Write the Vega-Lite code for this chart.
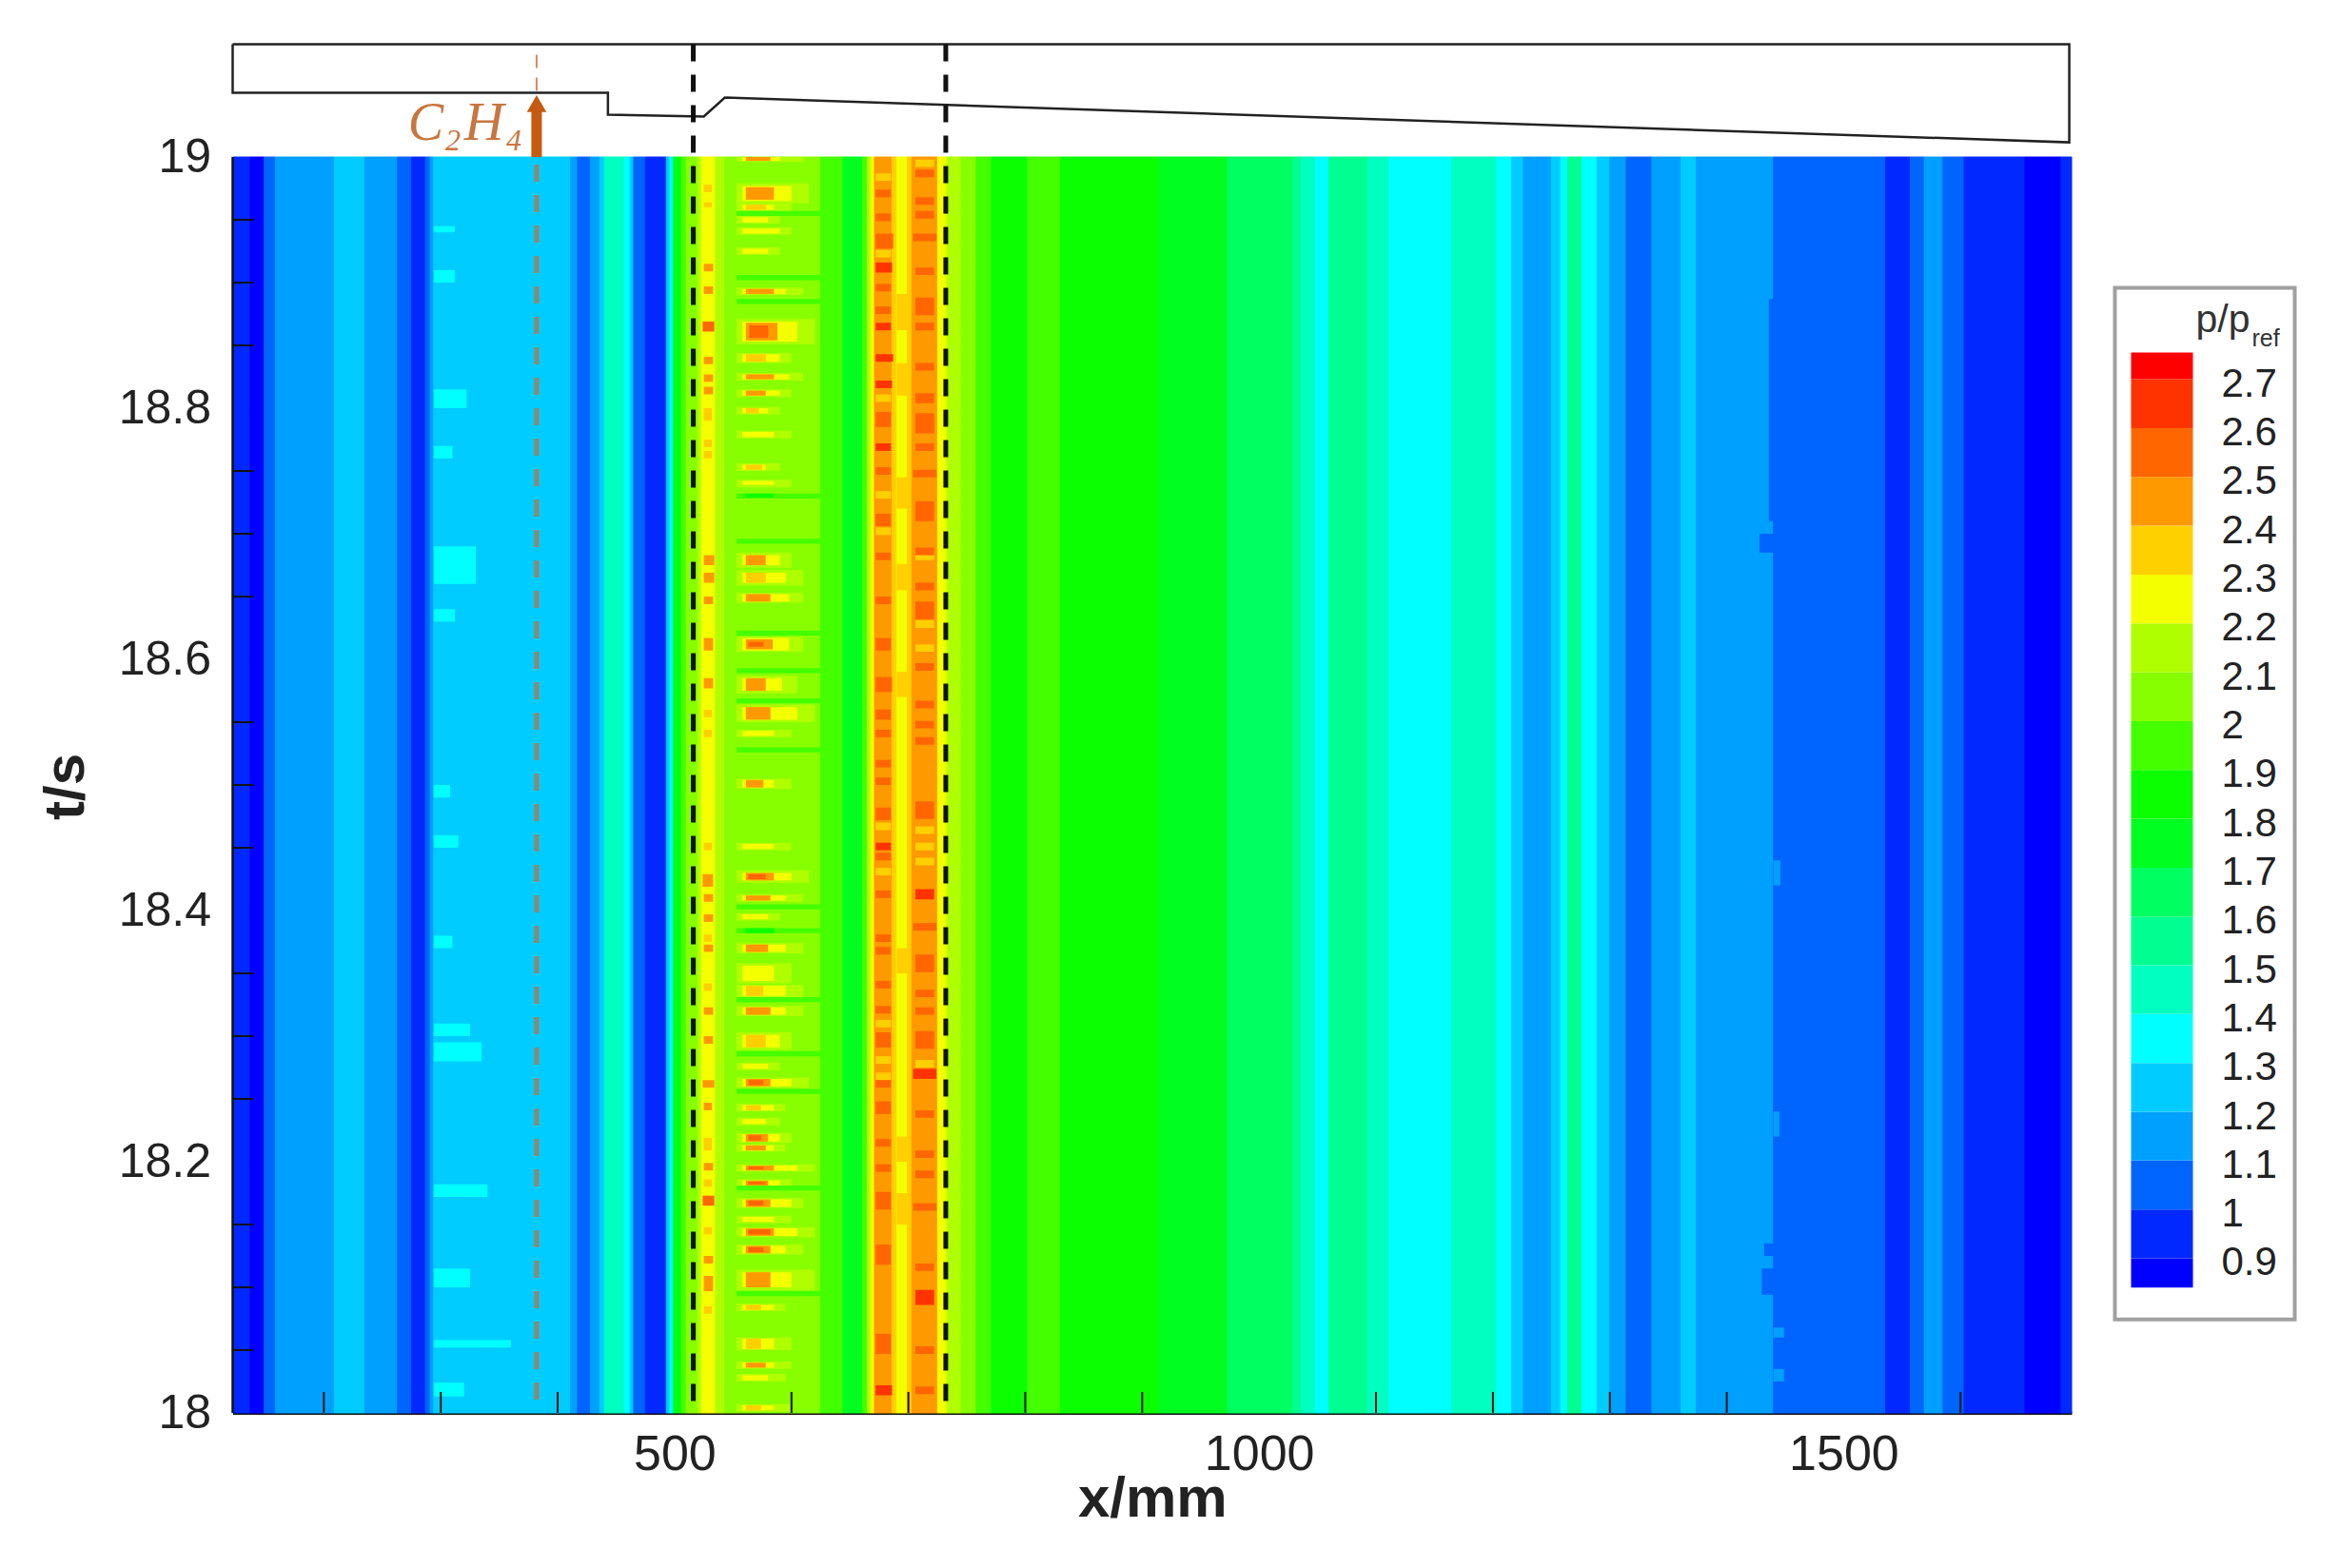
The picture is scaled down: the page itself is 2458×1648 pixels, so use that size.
{"$schema":"https://vega.github.io/schema/vega-lite/v6.json","background":"white","padding":{"left":39.5,"top":41.5,"right":0,"bottom":0},"spacing":40,"config":{"view":{"stroke":null},"font":"Liberation Sans","axis":{"labelFont":"Liberation Sans","titleFont":"Liberation Sans"}},
"datasets":{
"strips":[{"x":122,"x2":137,"t":18,"t2":19,"p":0.95},{"x":137,"x2":149,"t":18,"t2":19,"p":0.85},{"x":149,"x2":158.5,"t":18,"t2":19,"p":1.05},{"x":158.5,"x2":209,"t":18,"t2":19,"p":1.15},{"x":209,"x2":235,"t":18,"t2":19,"p":1.25},{"x":235,"x2":263,"t":18,"t2":19,"p":1.15},{"x":263,"x2":275,"t":18,"t2":19,"p":1.05},{"x":275,"x2":287,"t":18,"t2":19,"p":0.95},{"x":287,"x2":291,"t":18,"t2":19,"p":1.05},{"x":291,"x2":294,"t":18,"t2":19,"p":1.15},{"x":294,"x2":411,"t":18,"t2":19,"p":1.25},{"x":411,"x2":417,"t":18,"t2":19,"p":1.15},{"x":417,"x2":428,"t":18,"t2":19,"p":1.05},{"x":428,"x2":436,"t":18,"t2":19,"p":1.15},{"x":436,"x2":440,"t":18,"t2":19,"p":1.25},{"x":440,"x2":457,"t":18,"t2":19,"p":1.45},{"x":457,"x2":462,"t":18,"t2":19,"p":1.35},{"x":462,"x2":465,"t":18,"t2":19,"p":1.25},{"x":465,"x2":475,"t":18,"t2":19,"p":1.05},{"x":475,"x2":493,"t":18,"t2":19,"p":0.95},{"x":493,"x2":496,"t":18,"t2":19,"p":1.25},{"x":496,"x2":499,"t":18,"t2":19,"p":1.35},{"x":499,"x2":503,"t":18,"t2":19,"p":1.75},{"x":503,"x2":506,"t":18,"t2":19,"p":1.85},{"x":506,"x2":510,"t":18,"t2":19,"p":1.95},{"x":510,"x2":520,"t":18,"t2":19,"p":2.05},{"x":520,"x2":523,"t":18,"t2":19,"p":2.15},{"x":523,"x2":535,"t":18,"t2":19,"p":2.25},{"x":535,"x2":543,"t":18,"t2":19,"p":2.15},{"x":543,"x2":625,"t":18,"t2":19,"p":2.05},{"x":625,"x2":644,"t":18,"t2":19,"p":1.95},{"x":644,"x2":661,"t":18,"t2":19,"p":1.75},{"x":661,"x2":665,"t":18,"t2":19,"p":1.95},{"x":665,"x2":668,"t":18,"t2":19,"p":2.15},{"x":668,"x2":671,"t":18,"t2":19,"p":2.25},{"x":671,"x2":686,"t":18,"t2":19,"p":2.45},{"x":686,"x2":690,"t":18,"t2":19,"p":2.35},{"x":690,"x2":699,"t":18,"t2":19,"p":2.25},{"x":699,"x2":703,"t":18,"t2":19,"p":2.35},{"x":703,"x2":725,"t":18,"t2":19,"p":2.45},{"x":725,"x2":733,"t":18,"t2":19,"p":2.25},{"x":733,"x2":745,"t":18,"t2":19,"p":2.15},{"x":745,"x2":758,"t":18,"t2":19,"p":2.05},{"x":758,"x2":771,"t":18,"t2":19,"p":1.95},{"x":771,"x2":802,"t":18,"t2":19,"p":1.85},{"x":802,"x2":830,"t":18,"t2":19,"p":1.95},{"x":830,"x2":914,"t":18,"t2":19,"p":1.85},{"x":914,"x2":973,"t":18,"t2":19,"p":1.75},{"x":973,"x2":1029,"t":18,"t2":19,"p":1.65},{"x":1029,"x2":1036,"t":18,"t2":19,"p":1.55},{"x":1036,"x2":1048,"t":18,"t2":19,"p":1.45},{"x":1048,"x2":1060,"t":18,"t2":19,"p":1.35},{"x":1060,"x2":1093,"t":18,"t2":19,"p":1.55},{"x":1093,"x2":1111,"t":18,"t2":19,"p":1.45},{"x":1111,"x2":1165,"t":18,"t2":19,"p":1.35},{"x":1165,"x2":1203,"t":18,"t2":19,"p":1.45},{"x":1203,"x2":1216,"t":18,"t2":19,"p":1.35},{"x":1216,"x2":1226,"t":18,"t2":19,"p":1.25},{"x":1226,"x2":1250,"t":18,"t2":19,"p":1.15},{"x":1250,"x2":1258,"t":18,"t2":19,"p":1.25},{"x":1258,"x2":1264,"t":18,"t2":19,"p":1.35},{"x":1264,"x2":1276,"t":18,"t2":19,"p":1.55},{"x":1276,"x2":1289,"t":18,"t2":19,"p":1.35},{"x":1289,"x2":1300,"t":18,"t2":19,"p":1.25},{"x":1300,"x2":1314,"t":18,"t2":19,"p":1.15},{"x":1314,"x2":1336,"t":18,"t2":19,"p":1.05},{"x":1336,"x2":1361,"t":18,"t2":19,"p":1.15},{"x":1361,"x2":1374,"t":18,"t2":19,"p":1.25},{"x":1374,"x2":1440,"t":18,"t2":19,"p":1.15},{"x":1440,"x2":1536,"t":18,"t2":19,"p":1.05},{"x":1536,"x2":1557,"t":18,"t2":19,"p":0.95},{"x":1557,"x2":1569,"t":18,"t2":19,"p":1.05},{"x":1569,"x2":1585,"t":18,"t2":19,"p":1.15},{"x":1585,"x2":1603,"t":18,"t2":19,"p":1.05},{"x":1603,"x2":1655,"t":18,"t2":19,"p":0.95},{"x":1655,"x2":1686,"t":18,"t2":19,"p":0.85},{"x":1686,"x2":1695,"t":18,"t2":19,"p":0.95}],
"streaks":[
{"x":294,"x2":312,"t":18.94,"t2":18.945,"p":1.35},{"x":294,"x2":312,"t":18.9,"t2":18.91,"p":1.35},{"x":294,"x2":322,"t":18.8,"t2":18.815,"p":1.35},{"x":294,"x2":310,"t":18.76,"t2":18.77,"p":1.35},{"x":294,"x2":330,"t":18.66,"t2":18.69,"p":1.35},{"x":294,"x2":312,"t":18.63,"t2":18.64,"p":1.35},{"x":294,"x2":308,"t":18.49,"t2":18.5,"p":1.35},{"x":294,"x2":315,"t":18.45,"t2":18.46,"p":1.35},{"x":294,"x2":310,"t":18.37,"t2":18.38,"p":1.35},{"x":294,"x2":325,"t":18.3,"t2":18.31,"p":1.35},{"x":294,"x2":335,"t":18.28,"t2":18.295,"p":1.35},{"x":294,"x2":340,"t":18.172,"t2":18.182,"p":1.35},{"x":294,"x2":325,"t":18.1,"t2":18.115,"p":1.35},{"x":294,"x2":360,"t":18.052,"t2":18.058,"p":1.35},{"x":294,"x2":320,"t":18.013,"t2":18.024,"p":1.35},
{"x":1428,"x2":1440,"t":18.685,"t2":18.7,"p":1.05},{"x":1436,"x2":1440,"t":18.71,"t2":18.887,"p":1.05},{"x":1432,"x2":1440,"t":18.125,"t2":18.135,"p":1.05},{"x":1430,"x2":1440,"t":18.094,"t2":18.115,"p":1.05},{"x":1440,"x2":1449,"t":18.06,"t2":18.068,"p":1.15},{"x":1440,"x2":1449,"t":18.025,"t2":18.035,"p":1.15},{"x":1440,"x2":1445,"t":18.22,"t2":18.24,"p":1.15},{"x":1440,"x2":1446,"t":18.42,"t2":18.44,"p":1.15},
{"x":553,"x2":610,"t":18.996,"t2":19,"p":2.15},{"x":553,"x2":615,"t":18.963,"t2":18.979,"p":2.15},{"x":553,"x2":600,"t":18.957,"t2":18.963,"p":2.15},{"x":553,"x2":590,"t":18.947,"t2":18.953,"p":2.15},{"x":553,"x2":600,"t":18.938,"t2":18.944,"p":2.15},{"x":553,"x2":590,"t":18.922,"t2":18.928,"p":2.15},{"x":553,"x2":610,"t":18.89,"t2":18.896,"p":2.15},{"x":553,"x2":620,"t":18.851,"t2":18.871,"p":2.15},{"x":553,"x2":600,"t":18.836,"t2":18.844,"p":2.15},{"x":553,"x2":610,"t":18.822,"t2":18.828,"p":2.15},{"x":553,"x2":600,"t":18.809,"t2":18.815,"p":2.15},{"x":553,"x2":590,"t":18.795,"t2":18.801,"p":2.15},{"x":553,"x2":600,"t":18.776,"t2":18.782,"p":2.15},{"x":553,"x2":590,"t":18.75,"t2":18.756,"p":2.15},{"x":553,"x2":600,"t":18.737,"t2":18.743,"p":2.15},{"x":553,"x2":600,"t":18.673,"t2":18.685,"p":2.15},{"x":553,"x2":610,"t":18.659,"t2":18.671,"p":2.15},{"x":553,"x2":610,"t":18.645,"t2":18.653,"p":2.15},{"x":553,"x2":610,"t":18.606,"t2":18.618,"p":2.15},{"x":553,"x2":605,"t":18.573,"t2":18.587,"p":2.15},{"x":553,"x2":620,"t":18.55,"t2":18.564,"p":2.15},{"x":553,"x2":600,"t":18.538,"t2":18.544,"p":2.15},{"x":553,"x2":600,"t":18.497,"t2":18.505,"p":2.15},{"x":553,"x2":600,"t":18.448,"t2":18.454,"p":2.15},{"x":553,"x2":615,"t":18.422,"t2":18.432,"p":2.15},{"x":553,"x2":610,"t":18.407,"t2":18.413,"p":2.15},{"x":553,"x2":590,"t":18.392,"t2":18.398,"p":2.15},{"x":553,"x2":610,"t":18.366,"t2":18.374,"p":2.15},{"x":553,"x2":600,"t":18.342,"t2":18.358,"p":2.15},{"x":553,"x2":610,"t":18.331,"t2":18.341,"p":2.15},{"x":553,"x2":610,"t":18.316,"t2":18.324,"p":2.15},{"x":553,"x2":600,"t":18.289,"t2":18.303,"p":2.15},{"x":553,"x2":590,"t":18.273,"t2":18.279,"p":2.15},{"x":553,"x2":615,"t":18.259,"t2":18.267,"p":2.15},{"x":553,"x2":595,"t":18.24,"t2":18.246,"p":2.15},{"x":553,"x2":590,"t":18.229,"t2":18.235,"p":2.15},{"x":553,"x2":600,"t":18.215,"t2":18.223,"p":2.15},{"x":553,"x2":595,"t":18.208,"t2":18.214,"p":2.15},{"x":553,"x2":620,"t":18.192,"t2":18.198,"p":2.15},{"x":553,"x2":600,"t":18.18,"t2":18.186,"p":2.15},{"x":553,"x2":610,"t":18.163,"t2":18.171,"p":2.15},{"x":553,"x2":600,"t":18.151,"t2":18.157,"p":2.15},{"x":553,"x2":620,"t":18.14,"t2":18.148,"p":2.15},{"x":553,"x2":610,"t":18.126,"t2":18.134,"p":2.15},{"x":553,"x2":620,"t":18.098,"t2":18.114,"p":2.15},{"x":553,"x2":595,"t":18.081,"t2":18.087,"p":2.15},{"x":553,"x2":600,"t":18.05,"t2":18.06,"p":2.15},{"x":553,"x2":600,"t":18.035,"t2":18.041,"p":2.15},{"x":553,"x2":595,"t":18.025,"t2":18.031,"p":2.15},{"x":553,"x2":600,"t":18.001,"t2":18.007,"p":2.15},
{"x":553,"x2":628,"t":18.953,"t2":18.957,"p":1.95},{"x":553,"x2":628,"t":18.902,"t2":18.906,"p":1.95},{"x":553,"x2":628,"t":18.883,"t2":18.887,"p":1.95},{"x":553,"x2":628,"t":18.728,"t2":18.732,"p":1.95},{"x":560,"x2":585,"t":18.729,"t2":18.732,"p":1.85},{"x":553,"x2":628,"t":18.692,"t2":18.696,"p":1.95},{"x":553,"x2":628,"t":18.619,"t2":18.623,"p":1.95},{"x":553,"x2":628,"t":18.589,"t2":18.593,"p":1.95},{"x":553,"x2":628,"t":18.565,"t2":18.569,"p":1.95},{"x":553,"x2":628,"t":18.526,"t2":18.53,"p":1.95},{"x":553,"x2":628,"t":18.401,"t2":18.405,"p":1.95},{"x":553,"x2":628,"t":18.382,"t2":18.386,"p":1.95},{"x":560,"x2":585,"t":18.382,"t2":18.386,"p":1.85},{"x":553,"x2":628,"t":18.327,"t2":18.331,"p":1.95},{"x":553,"x2":628,"t":18.284,"t2":18.288,"p":1.95},{"x":553,"x2":628,"t":18.254,"t2":18.258,"p":1.95},{"x":553,"x2":628,"t":18.177,"t2":18.181,"p":1.95},{"x":553,"x2":628,"t":18.093,"t2":18.097,"p":1.95},
{"x":558,"x2":590,"t":18.997,"t2":19,"p":2.25},{"x":558,"x2":600,"t":18.965,"t2":18.977,"p":2.25},{"x":558,"x2":585,"t":18.958,"t2":18.962,"p":2.25},{"x":558,"x2":580,"t":18.948,"t2":18.952,"p":2.25},{"x":558,"x2":590,"t":18.939,"t2":18.943,"p":2.25},{"x":558,"x2":580,"t":18.923,"t2":18.927,"p":2.25},{"x":558,"x2":595,"t":18.891,"t2":18.895,"p":2.25},{"x":558,"x2":605,"t":18.853,"t2":18.869,"p":2.25},{"x":558,"x2":590,"t":18.837,"t2":18.843,"p":2.25},{"x":558,"x2":598,"t":18.823,"t2":18.827,"p":2.25},{"x":558,"x2":590,"t":18.81,"t2":18.814,"p":2.25},{"x":558,"x2":580,"t":18.796,"t2":18.8,"p":2.25},{"x":558,"x2":585,"t":18.777,"t2":18.781,"p":2.25},{"x":558,"x2":578,"t":18.751,"t2":18.755,"p":2.25},{"x":558,"x2":585,"t":18.739,"t2":18.742,"p":2.25},{"x":558,"x2":590,"t":18.675,"t2":18.683,"p":2.25},{"x":558,"x2":595,"t":18.661,"t2":18.669,"p":2.25},{"x":558,"x2":598,"t":18.646,"t2":18.652,"p":2.25},{"x":558,"x2":598,"t":18.607,"t2":18.617,"p":2.25},{"x":558,"x2":592,"t":18.575,"t2":18.585,"p":2.25},{"x":558,"x2":605,"t":18.552,"t2":18.562,"p":2.25},{"x":558,"x2":585,"t":18.539,"t2":18.543,"p":2.25},{"x":558,"x2":585,"t":18.498,"t2":18.504,"p":2.25},{"x":558,"x2":585,"t":18.449,"t2":18.453,"p":2.25},{"x":558,"x2":600,"t":18.424,"t2":18.43,"p":2.25},{"x":558,"x2":595,"t":18.408,"t2":18.412,"p":2.25},{"x":558,"x2":580,"t":18.393,"t2":18.397,"p":2.25},{"x":558,"x2":595,"t":18.367,"t2":18.373,"p":2.25},{"x":558,"x2":585,"t":18.344,"t2":18.356,"p":2.25},{"x":558,"x2":595,"t":18.332,"t2":18.34,"p":2.25},{"x":558,"x2":595,"t":18.317,"t2":18.323,"p":2.25},{"x":558,"x2":590,"t":18.291,"t2":18.301,"p":2.25},{"x":558,"x2":580,"t":18.274,"t2":18.278,"p":2.25},{"x":558,"x2":600,"t":18.26,"t2":18.266,"p":2.25},{"x":558,"x2":585,"t":18.241,"t2":18.245,"p":2.25},{"x":558,"x2":578,"t":18.23,"t2":18.234,"p":2.25},{"x":558,"x2":590,"t":18.216,"t2":18.222,"p":2.25},{"x":558,"x2":585,"t":18.209,"t2":18.213,"p":2.25},{"x":558,"x2":605,"t":18.193,"t2":18.197,"p":2.25},{"x":558,"x2":590,"t":18.181,"t2":18.185,"p":2.25},{"x":558,"x2":600,"t":18.164,"t2":18.17,"p":2.25},{"x":558,"x2":585,"t":18.152,"t2":18.156,"p":2.25},{"x":558,"x2":605,"t":18.141,"t2":18.147,"p":2.25},{"x":558,"x2":595,"t":18.127,"t2":18.133,"p":2.25},{"x":558,"x2":600,"t":18.1,"t2":18.112,"p":2.25},{"x":558,"x2":585,"t":18.082,"t2":18.086,"p":2.25},{"x":558,"x2":585,"t":18.051,"t2":18.059,"p":2.25},{"x":558,"x2":585,"t":18.036,"t2":18.04,"p":2.25},{"x":558,"x2":580,"t":18.026,"t2":18.03,"p":2.25},{"x":558,"x2":585,"t":18.002,"t2":18.006,"p":2.25},
{"x":561,"x2":582,"t":18.997,"t2":19,"p":2.45},{"x":561,"x2":585,"t":18.966,"t2":18.976,"p":2.45},{"x":561,"x2":578,"t":18.958,"t2":18.962,"p":2.35},{"x":561,"x2":585,"t":18.891,"t2":18.895,"p":2.45},{"x":561,"x2":588,"t":18.854,"t2":18.868,"p":2.45},{"x":564,"x2":580,"t":18.856,"t2":18.866,"p":2.55},{"x":561,"x2":578,"t":18.837,"t2":18.843,"p":2.35},{"x":561,"x2":585,"t":18.823,"t2":18.827,"p":2.45},{"x":561,"x2":578,"t":18.81,"t2":18.814,"p":2.45},{"x":561,"x2":572,"t":18.796,"t2":18.8,"p":2.35},{"x":561,"x2":575,"t":18.751,"t2":18.755,"p":2.35},{"x":561,"x2":578,"t":18.675,"t2":18.683,"p":2.45},{"x":561,"x2":578,"t":18.661,"t2":18.669,"p":2.35},{"x":561,"x2":582,"t":18.646,"t2":18.652,"p":2.45},{"x":561,"x2":584,"t":18.608,"t2":18.616,"p":2.45},{"x":563,"x2":576,"t":18.61,"t2":18.614,"p":2.55},{"x":561,"x2":578,"t":18.575,"t2":18.585,"p":2.45},{"x":561,"x2":582,"t":18.552,"t2":18.562,"p":2.45},{"x":561,"x2":576,"t":18.498,"t2":18.504,"p":2.45},{"x":561,"x2":585,"t":18.424,"t2":18.43,"p":2.45},{"x":563,"x2":578,"t":18.425,"t2":18.429,"p":2.55},{"x":561,"x2":582,"t":18.408,"t2":18.412,"p":2.45},{"x":561,"x2":580,"t":18.367,"t2":18.373,"p":2.45},{"x":561,"x2":576,"t":18.332,"t2":18.34,"p":2.35},{"x":561,"x2":582,"t":18.317,"t2":18.323,"p":2.45},{"x":561,"x2":578,"t":18.291,"t2":18.301,"p":2.35},{"x":561,"x2":582,"t":18.26,"t2":18.266,"p":2.45},{"x":563,"x2":576,"t":18.261,"t2":18.265,"p":2.55},{"x":561,"x2":574,"t":18.241,"t2":18.245,"p":2.35},{"x":561,"x2":580,"t":18.216,"t2":18.222,"p":2.45},{"x":563,"x2":574,"t":18.217,"t2":18.221,"p":2.55},{"x":561,"x2":578,"t":18.209,"t2":18.213,"p":2.45},{"x":561,"x2":585,"t":18.193,"t2":18.197,"p":2.45},{"x":563,"x2":576,"t":18.194,"t2":18.196,"p":2.55},{"x":561,"x2":580,"t":18.181,"t2":18.185,"p":2.45},{"x":563,"x2":578,"t":18.182,"t2":18.184,"p":2.55},{"x":561,"x2":582,"t":18.164,"t2":18.17,"p":2.45},{"x":563,"x2":576,"t":18.165,"t2":18.169,"p":2.55},{"x":561,"x2":585,"t":18.141,"t2":18.147,"p":2.45},{"x":563,"x2":582,"t":18.142,"t2":18.146,"p":2.55},{"x":561,"x2":582,"t":18.127,"t2":18.133,"p":2.45},{"x":563,"x2":576,"t":18.128,"t2":18.132,"p":2.55},{"x":561,"x2":582,"t":18.1,"t2":18.112,"p":2.45},{"x":561,"x2":574,"t":18.082,"t2":18.086,"p":2.35},{"x":561,"x2":574,"t":18.051,"t2":18.059,"p":2.35},{"x":561,"x2":578,"t":18.036,"t2":18.04,"p":2.45},{"x":561,"x2":574,"t":18.002,"t2":18.006,"p":2.35},
{"x":525,"x2":532,"t":18.972,"t2":18.978,"p":2.35},{"x":525,"x2":532,"t":18.96,"t2":18.964,"p":2.35},{"x":525,"x2":533,"t":18.909,"t2":18.915,"p":2.45},{"x":525,"x2":533,"t":18.891,"t2":18.897,"p":2.45},{"x":524,"x2":534,"t":18.861,"t2":18.869,"p":2.55},{"x":525,"x2":533,"t":18.835,"t2":18.841,"p":2.45},{"x":525,"x2":533,"t":18.821,"t2":18.827,"p":2.45},{"x":525,"x2":533,"t":18.811,"t2":18.817,"p":2.45},{"x":525,"x2":532,"t":18.79,"t2":18.8,"p":2.35},{"x":525,"x2":532,"t":18.769,"t2":18.775,"p":2.35},{"x":525,"x2":532,"t":18.76,"t2":18.766,"p":2.35},{"x":525,"x2":534,"t":18.675,"t2":18.683,"p":2.45},{"x":525,"x2":534,"t":18.661,"t2":18.669,"p":2.45},{"x":525,"x2":533,"t":18.644,"t2":18.65,"p":2.45},{"x":525,"x2":533,"t":18.607,"t2":18.617,"p":2.45},{"x":525,"x2":533,"t":18.577,"t2":18.585,"p":2.45},{"x":525,"x2":532,"t":18.554,"t2":18.56,"p":2.35},{"x":525,"x2":532,"t":18.538,"t2":18.544,"p":2.35},{"x":525,"x2":532,"t":18.448,"t2":18.454,"p":2.35},{"x":524,"x2":533,"t":18.419,"t2":18.429,"p":2.45},{"x":525,"x2":533,"t":18.407,"t2":18.413,"p":2.45},{"x":525,"x2":533,"t":18.391,"t2":18.397,"p":2.45},{"x":525,"x2":532,"t":18.375,"t2":18.381,"p":2.35},{"x":525,"x2":533,"t":18.367,"t2":18.373,"p":2.45},{"x":525,"x2":532,"t":18.336,"t2":18.342,"p":2.35},{"x":525,"x2":533,"t":18.317,"t2":18.323,"p":2.45},{"x":525,"x2":533,"t":18.294,"t2":18.3,"p":2.45},{"x":524,"x2":534,"t":18.259,"t2":18.265,"p":2.45},{"x":525,"x2":532,"t":18.241,"t2":18.247,"p":2.45},{"x":525,"x2":532,"t":18.209,"t2":18.219,"p":2.35},{"x":525,"x2":533,"t":18.193,"t2":18.199,"p":2.45},{"x":525,"x2":532,"t":18.18,"t2":18.186,"p":2.35},{"x":524,"x2":534,"t":18.165,"t2":18.173,"p":2.55},{"x":525,"x2":532,"t":18.142,"t2":18.148,"p":2.35},{"x":525,"x2":533,"t":18.119,"t2":18.125,"p":2.45},{"x":525,"x2":533,"t":18.097,"t2":18.109,"p":2.45},{"x":525,"x2":532,"t":18.079,"t2":18.085,"p":2.35},
{"x":690,"x2":699,"t":18.862,"t2":18.891,"p":2.35},{"x":690,"x2":699,"t":18.81,"t2":18.836,"p":2.35},{"x":690,"x2":699,"t":18.72,"t2":18.745,"p":2.35},{"x":690,"x2":699,"t":18.655,"t2":18.676,"p":2.35},{"x":690,"x2":699,"t":18.57,"t2":18.59,"p":2.35},{"x":690,"x2":699,"t":18.35,"t2":18.37,"p":2.35},{"x":690,"x2":699,"t":18.2,"t2":18.22,"p":2.35},{"x":690,"x2":699,"t":18.15,"t2":18.175,"p":2.35},
{"x":672,"x2":685,"t":18.981,"t2":18.987,"p":2.35},{"x":672,"x2":685,"t":18.92,"t2":18.926,"p":2.35},{"x":672,"x2":685,"t":18.805,"t2":18.811,"p":2.35},{"x":672,"x2":685,"t":18.728,"t2":18.734,"p":2.35},{"x":672,"x2":685,"t":18.699,"t2":18.705,"p":2.35},{"x":672,"x2":685,"t":18.464,"t2":18.47,"p":2.35},{"x":672,"x2":685,"t":18.428,"t2":18.434,"p":2.35},{"x":672,"x2":685,"t":18.307,"t2":18.313,"p":2.35},{"x":672,"x2":685,"t":18.278,"t2":18.284,"p":2.35},{"x":672,"x2":685,"t":18.265,"t2":18.271,"p":2.35},
{"x":706,"x2":722,"t":18.992,"t2":18.998,"p":2.35},{"x":706,"x2":722,"t":18.679,"t2":18.685,"p":2.35},{"x":706,"x2":722,"t":18.625,"t2":18.631,"p":2.35},{"x":706,"x2":722,"t":18.606,"t2":18.612,"p":2.35},{"x":706,"x2":722,"t":18.461,"t2":18.467,"p":2.35},{"x":706,"x2":722,"t":18.448,"t2":18.454,"p":2.35},{"x":706,"x2":722,"t":18.436,"t2":18.442,"p":2.35},{"x":706,"x2":722,"t":18.275,"t2":18.281,"p":2.35},
{"x":672,"x2":685,"t":18.968,"t2":18.974,"p":2.55},{"x":672,"x2":685,"t":18.949,"t2":18.955,"p":2.55},{"x":672,"x2":687,"t":18.927,"t2":18.939,"p":2.55},{"x":672,"x2":686,"t":18.908,"t2":18.916,"p":2.65},{"x":672,"x2":685,"t":18.893,"t2":18.899,"p":2.55},{"x":672,"x2":685,"t":18.875,"t2":18.881,"p":2.55},{"x":672,"x2":685,"t":18.862,"t2":18.868,"p":2.65},{"x":672,"x2":687,"t":18.837,"t2":18.843,"p":2.65},{"x":672,"x2":686,"t":18.816,"t2":18.822,"p":2.65},{"x":672,"x2":685,"t":18.785,"t2":18.797,"p":2.55},{"x":672,"x2":685,"t":18.766,"t2":18.772,"p":2.65},{"x":672,"x2":685,"t":18.747,"t2":18.753,"p":2.55},{"x":672,"x2":685,"t":18.706,"t2":18.716,"p":2.55},{"x":672,"x2":685,"t":18.679,"t2":18.685,"p":2.55},{"x":672,"x2":685,"t":18.644,"t2":18.65,"p":2.55},{"x":672,"x2":685,"t":18.607,"t2":18.617,"p":2.55},{"x":672,"x2":686,"t":18.574,"t2":18.586,"p":2.55},{"x":672,"x2":685,"t":18.552,"t2":18.56,"p":2.55},{"x":672,"x2":685,"t":18.538,"t2":18.544,"p":2.55},{"x":672,"x2":685,"t":18.514,"t2":18.52,"p":2.55},{"x":672,"x2":685,"t":18.5,"t2":18.506,"p":2.55},{"x":672,"x2":685,"t":18.472,"t2":18.482,"p":2.55},{"x":672,"x2":685,"t":18.448,"t2":18.454,"p":2.65},{"x":672,"x2":685,"t":18.44,"t2":18.446,"p":2.55},{"x":672,"x2":685,"t":18.41,"t2":18.416,"p":2.55},{"x":672,"x2":685,"t":18.375,"t2":18.381,"p":2.55},{"x":672,"x2":685,"t":18.365,"t2":18.371,"p":2.55},{"x":672,"x2":685,"t":18.338,"t2":18.344,"p":2.55},{"x":672,"x2":685,"t":18.318,"t2":18.324,"p":2.55},{"x":672,"x2":685,"t":18.291,"t2":18.303,"p":2.55},{"x":672,"x2":685,"t":18.259,"t2":18.265,"p":2.55},{"x":672,"x2":685,"t":18.238,"t2":18.248,"p":2.55},{"x":672,"x2":685,"t":18.212,"t2":18.218,"p":2.55},{"x":672,"x2":685,"t":18.192,"t2":18.198,"p":2.55},{"x":672,"x2":685,"t":18.162,"t2":18.176,"p":2.55},{"x":672,"x2":685,"t":18.118,"t2":18.134,"p":2.55},{"x":672,"x2":685,"t":18.047,"t2":18.063,"p":2.55},{"x":672,"x2":686,"t":18.014,"t2":18.022,"p":2.65},
{"x":706,"x2":722,"t":18.984,"t2":18.99,"p":2.55},{"x":706,"x2":722,"t":18.962,"t2":18.968,"p":2.55},{"x":706,"x2":722,"t":18.951,"t2":18.957,"p":2.55},{"x":704,"x2":724,"t":18.933,"t2":18.939,"p":2.55},{"x":706,"x2":722,"t":18.906,"t2":18.912,"p":2.55},{"x":706,"x2":722,"t":18.874,"t2":18.888,"p":2.55},{"x":706,"x2":722,"t":18.862,"t2":18.868,"p":2.55},{"x":706,"x2":722,"t":18.83,"t2":18.836,"p":2.55},{"x":706,"x2":722,"t":18.804,"t2":18.812,"p":2.55},{"x":706,"x2":722,"t":18.78,"t2":18.796,"p":2.55},{"x":706,"x2":722,"t":18.766,"t2":18.772,"p":2.55},{"x":704,"x2":724,"t":18.745,"t2":18.751,"p":2.55},{"x":706,"x2":722,"t":18.71,"t2":18.726,"p":2.55},{"x":706,"x2":722,"t":18.683,"t2":18.689,"p":2.55},{"x":706,"x2":722,"t":18.655,"t2":18.661,"p":2.55},{"x":706,"x2":722,"t":18.632,"t2":18.646,"p":2.55},{"x":706,"x2":722,"t":18.591,"t2":18.597,"p":2.55},{"x":706,"x2":722,"t":18.561,"t2":18.567,"p":2.55},{"x":706,"x2":722,"t":18.545,"t2":18.551,"p":2.55},{"x":706,"x2":722,"t":18.532,"t2":18.538,"p":2.55},{"x":706,"x2":722,"t":18.473,"t2":18.487,"p":2.55},{"x":706,"x2":722,"t":18.409,"t2":18.417,"p":2.65},{"x":704,"x2":724,"t":18.384,"t2":18.39,"p":2.55},{"x":706,"x2":722,"t":18.351,"t2":18.365,"p":2.55},{"x":706,"x2":722,"t":18.331,"t2":18.337,"p":2.55},{"x":706,"x2":722,"t":18.317,"t2":18.323,"p":2.55},{"x":706,"x2":722,"t":18.29,"t2":18.304,"p":2.55},{"x":704,"x2":724,"t":18.266,"t2":18.274,"p":2.65},{"x":706,"x2":722,"t":18.235,"t2":18.241,"p":2.55},{"x":706,"x2":722,"t":18.203,"t2":18.209,"p":2.55},{"x":706,"x2":722,"t":18.187,"t2":18.193,"p":2.55},{"x":704,"x2":724,"t":18.161,"t2":18.167,"p":2.55},{"x":706,"x2":722,"t":18.113,"t2":18.119,"p":2.55},{"x":706,"x2":722,"t":18.086,"t2":18.098,"p":2.65},{"x":706,"x2":722,"t":18.047,"t2":18.053,"p":2.55},{"x":706,"x2":722,"t":18.015,"t2":18.021,"p":2.55}],
"outline":[{"i":0,"x":122,"t":19.0898},{"i":1,"x":1693,"t":19.0898},{"i":2,"x":1693,"t":19.0117},{"i":3,"x":543,"t":19.0473},{"i":4,"x":525,"t":19.0322},{"i":5,"x":443,"t":19.0337},{"i":6,"x":443,"t":19.0511},{"i":7,"x":122,"t":19.0511},{"i":8,"x":122,"t":19.0898}],
"dash":[{"x":516,"t":19.0898,"t2":18},{"x":732,"t":19.0898,"t2":18}],
"minorX":[{"x":200,"t":18,"t2":18.0167},{"x":300,"t":18,"t2":18.0167},{"x":400,"t":18,"t2":18.0167},{"x":600,"t":18,"t2":18.0167},{"x":700,"t":18,"t2":18.0167},{"x":800,"t":18,"t2":18.0167},{"x":900,"t":18,"t2":18.0167},{"x":1100,"t":18,"t2":18.0167},{"x":1200,"t":18,"t2":18.0167},{"x":1300,"t":18,"t2":18.0167},{"x":1400,"t":18,"t2":18.0167},{"x":1600,"t":18,"t2":18.0167}],
"minorY":[{"x":122,"x2":140,"t":18.05},{"x":122,"x2":140,"t":18.1},{"x":122,"x2":140,"t":18.15},{"x":122,"x2":140,"t":18.25},{"x":122,"x2":140,"t":18.3},{"x":122,"x2":140,"t":18.35},{"x":122,"x2":140,"t":18.45},{"x":122,"x2":140,"t":18.5},{"x":122,"x2":140,"t":18.55},{"x":122,"x2":140,"t":18.65},{"x":122,"x2":140,"t":18.7},{"x":122,"x2":140,"t":18.75},{"x":122,"x2":140,"t":18.85},{"x":122,"x2":140,"t":18.9},{"x":122,"x2":140,"t":18.95}],
"fuel":[{"x":272,"t":19.014,"label":"C","size":56},{"x":320,"t":19.014,"label":"H","size":58},{"x":304,"t":19.0057,"label":"2","size":32},{"x":356,"t":19.0057,"label":"4","size":32}],
"bands":[{"lo":0.775,"hi":2.887,"b":0,"b2":1}],
"ramp":[{"lo":0.84,"hi":0.9,"p":0.85},{"lo":0.9,"hi":1,"p":0.95},{"lo":1,"hi":1.1,"p":1.05},{"lo":1.1,"hi":1.2,"p":1.15},{"lo":1.2,"hi":1.3,"p":1.25},{"lo":1.3,"hi":1.4,"p":1.35},{"lo":1.4,"hi":1.5,"p":1.45},{"lo":1.5,"hi":1.6,"p":1.55},{"lo":1.6,"hi":1.7,"p":1.65},{"lo":1.7,"hi":1.8,"p":1.75},{"lo":1.8,"hi":1.9,"p":1.85},{"lo":1.9,"hi":2,"p":1.95},{"lo":2,"hi":2.1,"p":2.05},{"lo":2.1,"hi":2.2,"p":2.15},{"lo":2.2,"hi":2.3,"p":2.25},{"lo":2.3,"hi":2.4,"p":2.35},{"lo":2.4,"hi":2.5,"p":2.45},{"lo":2.5,"hi":2.6,"p":2.55},{"lo":2.6,"hi":2.7,"p":2.65},{"lo":2.7,"hi":2.755,"p":2.75}],
"levels":[{"v":0.9,"label":"0.9"},{"v":1,"label":"1"},{"v":1.1,"label":"1.1"},{"v":1.2,"label":"1.2"},{"v":1.3,"label":"1.3"},{"v":1.4,"label":"1.4"},{"v":1.5,"label":"1.5"},{"v":1.6,"label":"1.6"},{"v":1.7,"label":"1.7"},{"v":1.8,"label":"1.8"},{"v":1.9,"label":"1.9"},{"v":2,"label":"2"},{"v":2.1,"label":"2.1"},{"v":2.2,"label":"2.2"},{"v":2.3,"label":"2.3"},{"v":2.4,"label":"2.4"},{"v":2.5,"label":"2.5"},{"v":2.6,"label":"2.6"},{"v":2.7,"label":"2.7"}]
},
"hconcat":[
{"width":1932.5,"height":1438.5,
"encoding":{
"x":{"field":"x","type":"quantitative","title":"x/mm","scale":{"domain":[122,1695],"nice":false,"zero":false},"axis":{"values":[500,1000,1500],"format":"d","grid":false,"tickSize":-36,"tickWidth":2,"tickColor":"#111","domainColor":"#111","domainWidth":3,"labelFontSize":52,"labelColor":"#222","labelPadding":54,"titleFontSize":60,"titleFontWeight":"bold","titleColor":"#222","titlePadding":-8,"labelFlush":false}},
"y":{"field":"t","type":"quantitative","title":"t/s","scale":{"domain":[18,19.0898],"nice":false,"zero":false},"axis":{"values":[18,18.2,18.4,18.6,18.8,19],"format":".3~g","grid":false,"domain":false,"tickSize":-36,"tickWidth":2,"tickColor":"#111","labelFontSize":50,"labelColor":"#222","labelPadding":59,"titleFontSize":60,"titleFontWeight":"bold","titleColor":"#222","titleX":-144,"titleY":780}}},
"layer":[
{"data":{"name":"strips"},"mark":{"type":"rect","strokeWidth":1},"encoding":{"x2":{"field":"x2"},"y2":{"field":"t2"},"fill":{"field":"p","type":"quantitative","legend":null,"scale":{"type":"threshold","domain":[0.9,1,1.1,1.2,1.3,1.4,1.5,1.6,1.7,1.8,1.9,2,2.1,2.2,2.3,2.4,2.5,2.6,2.7],"range":["#0000ff","#0028ff","#0064ff","#00a0ff","#00ccff","#00ffff","#00ffc0","#00ff90","#00ff60","#00ff20","#0cff00","#44ff00","#88ff00","#b0ff00","#f4ff00","#ffd000","#ff9900","#ff6600","#ff3300","#ff0000"]}},"stroke":{"field":"p","type":"quantitative","legend":null,"scale":{"type":"threshold","domain":[0.9,1,1.1,1.2,1.3,1.4,1.5,1.6,1.7,1.8,1.9,2,2.1,2.2,2.3,2.4,2.5,2.6,2.7],"range":["#0000ff","#0028ff","#0064ff","#00a0ff","#00ccff","#00ffff","#00ffc0","#00ff90","#00ff60","#00ff20","#0cff00","#44ff00","#88ff00","#b0ff00","#f4ff00","#ffd000","#ff9900","#ff6600","#ff3300","#ff0000"]}}}},
{"data":{"name":"streaks"},"mark":{"type":"rect"},"encoding":{"x2":{"field":"x2"},"y2":{"field":"t2"},"fill":{"field":"p","type":"quantitative","legend":null,"scale":{"type":"threshold","domain":[0.9,1,1.1,1.2,1.3,1.4,1.5,1.6,1.7,1.8,1.9,2,2.1,2.2,2.3,2.4,2.5,2.6,2.7],"range":["#0000ff","#0028ff","#0064ff","#00a0ff","#00ccff","#00ffff","#00ffc0","#00ff90","#00ff60","#00ff20","#0cff00","#44ff00","#88ff00","#b0ff00","#f4ff00","#ffd000","#ff9900","#ff6600","#ff3300","#ff0000"]}}}},
{"data":{"name":"minorX"},"mark":{"type":"rule","color":"#111","strokeWidth":2},"encoding":{"y2":{"field":"t2"}}},
{"data":{"name":"minorY"},"mark":{"type":"rule","color":"#111","strokeWidth":2},"encoding":{"x2":{"field":"x2"}}},
{"data":{"values":[{"x":122,"t":18,"t2":19}]},"mark":{"type":"rule","color":"#111","strokeWidth":2.5},"encoding":{"y2":{"field":"t2"}}},
{"data":{"name":"outline"},"mark":{"type":"line","color":"#222","strokeWidth":2.5},"encoding":{"order":{"field":"i","type":"quantitative"}}},
{"data":{"values":[{"x":382,"t":19.0815,"t2":19.045}]},"mark":{"type":"rule","color":"#d98a5a","strokeWidth":2,"strokeDash":[14,10]},"encoding":{"y2":{"field":"t2"}}},
{"data":{"values":[{"x":382,"t":19,"t2":18}]},"mark":{"type":"rule","color":"#c0703f","opacity":0.75,"strokeWidth":5,"strokeDash":[18,14],"strokeDashOffset":-8},"encoding":{"y2":{"field":"t2"}}},
{"data":{"values":[{"x":382,"t":19.04,"t2":19.0}]},"mark":{"type":"rule","color":"#c55a11","strokeWidth":11},"encoding":{"y2":{"field":"t2"}}},
{"data":{"values":[{"x":382,"t":19.0425}]},"mark":{"type":"point","shape":"triangle-up","filled":true,"opacity":1,"color":"#c55a11","size":420}},
{"data":{"name":"dash"},"mark":{"type":"rule","color":"#111","strokeWidth":5,"strokeDash":[18,14]},"encoding":{"y2":{"field":"t2"}}},
{"data":{"name":"fuel"},"mark":{"type":"text","font":"Liberation Serif","fontStyle":"italic","color":"#c8763f","align":"left","baseline":"alphabetic"},"encoding":{"text":{"field":"label"},"size":{"field":"size","type":"quantitative","scale":null}}}
]},
{"width":189,"height":1438.5,
"layer":[
{"data":{"name":"bands"},"mark":{"type":"rect","fill":"white","stroke":"#a0a0a0","strokeWidth":4},"encoding":{"x":{"field":"b","type":"quantitative","axis":null,"scale":{"domain":[0,1],"nice":false}},"x2":{"field":"b2"},"y":{"field":"lo","type":"quantitative","axis":null,"scale":{"domain":[0.5834,3.386],"nice":false,"zero":false}},"y2":{"field":"hi"}}},
{"data":{"name":"ramp"},"mark":{"type":"rect","x":17,"x2":82},"encoding":{"y":{"field":"lo","type":"quantitative","axis":null},"y2":{"field":"hi"},"fill":{"field":"p","type":"quantitative","legend":null,"scale":{"type":"threshold","domain":[0.9,1,1.1,1.2,1.3,1.4,1.5,1.6,1.7,1.8,1.9,2,2.1,2.2,2.3,2.4,2.5,2.6,2.7],"range":["#0000ff","#0028ff","#0064ff","#00a0ff","#00ccff","#00ffff","#00ffc0","#00ff90","#00ff60","#00ff20","#0cff00","#44ff00","#88ff00","#b0ff00","#f4ff00","#ffd000","#ff9900","#ff6600","#ff3300","#ff0000"]}}}},
{"data":{"name":"levels"},"mark":{"type":"text","x":112,"align":"left","baseline":"middle","dy":5,"fontSize":42,"color":"#222"},"encoding":{"y":{"field":"v","type":"quantitative","axis":null},"text":{"field":"label"}}},
{"data":{"values":[{"v":2.7975,"label":"p/p"}]},"mark":{"type":"text","x":85,"align":"left","baseline":"alphabetic","fontSize":41,"color":"#333"},"encoding":{"y":{"field":"v","type":"quantitative","axis":null},"text":{"field":"label"}}},
{"data":{"values":[{"v":2.7683,"label":"ref"}]},"mark":{"type":"text","x":144,"align":"left","baseline":"alphabetic","fontSize":25,"color":"#333"},"encoding":{"y":{"field":"v","type":"quantitative","axis":null},"text":{"field":"label"}}}
]}
]}
